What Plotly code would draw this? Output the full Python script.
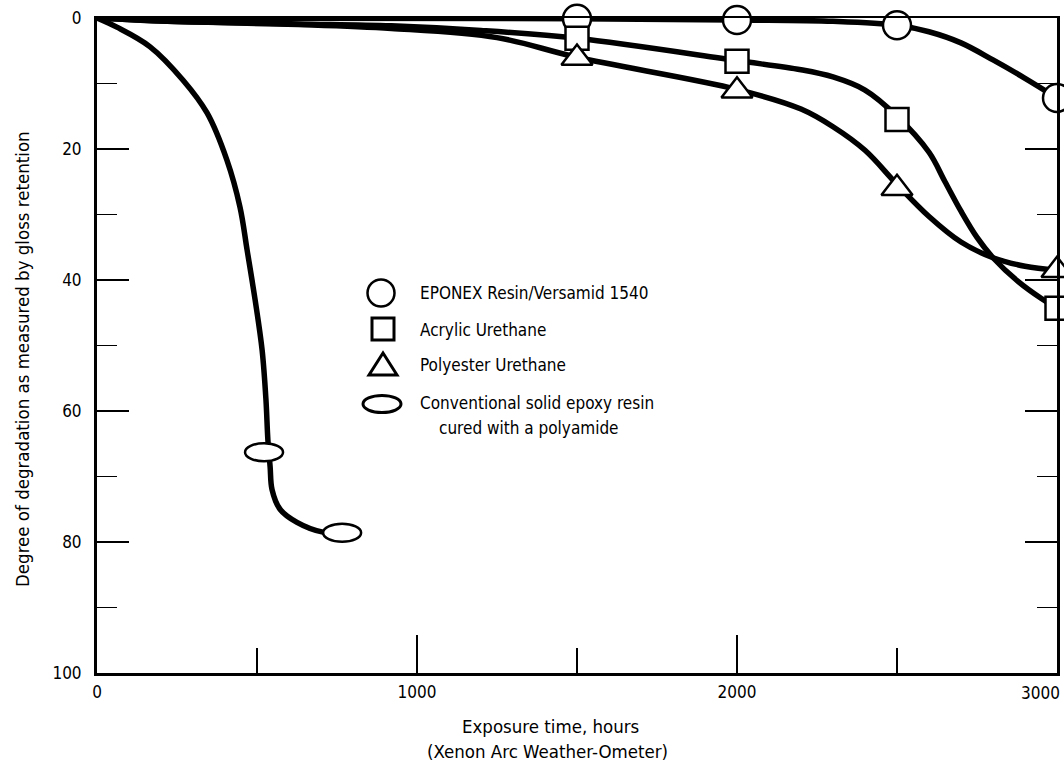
import plotly.graph_objects as go

# ---------------- data ----------------
series_names = [
    "EPONEX Resin/Versamid 1540",
    "Acrylic Urethane",
    "Polyester Urethane",
    "Conventional solid epoxy resin",
]
conv_name_line2 = "cured with a polyamide"
x_title_lines = ["Exposure time, hours", "(Xenon Arc Weather-Ometer)"]
y_title = "Degree of degradation as measured by gloss retention"

# EPONEX Resin / Versamid 1540 (circles)
eponex_x = [0, 1500, 2000, 2300, 2500, 2600, 2700, 2800, 2900, 3000]
eponex_y = [0, 0.1, 0.3, 0.5, 1.1, 2.1, 3.8, 6.4, 9.2, 12.2]
eponex_mx = [1500, 2000, 2500, 3000]
eponex_my = [0.1, 0.3, 1.1, 12.2]

# Acrylic Urethane (squares)
acrylic_x = [0, 220, 630, 920, 1200, 1500, 2000, 2200, 2300, 2400, 2500,
             2600, 2650, 2700, 2750, 2800, 2880, 2950, 3000]
acrylic_y = [0, 0.5, 0.9, 1.2, 1.9, 3.1, 6.5, 7.9, 9.0, 11.0, 15.0,
             20.5, 25.0, 29.5, 33.5, 36.6, 40.3, 42.8, 44.3]
acrylic_mx = [1500, 2000, 2500, 3000]
acrylic_my = [3.1, 6.6, 15.5, 44.3]

# Polyester Urethane (triangles)
polyester_x = [0, 220, 630, 920, 1250, 1500, 2000, 2200, 2300, 2400, 2500,
               2600, 2700, 2800, 2900, 3000]
polyester_y = [0, 0.5, 1.0, 1.6, 3.0, 6.0, 10.9, 13.9, 16.6, 20.2, 25.4,
               30.3, 34.2, 36.6, 37.9, 38.5]
polyester_mx = [1500, 2000, 2500, 3000]
polyester_my = [6.1, 11.1, 26.0, 38.5]

# Conventional solid epoxy resin cured with a polyamide (ellipses)
conv_x = [0, 62, 166, 269, 344, 406, 447, 469, 494, 516, 528, 534, 541, 547, 572, 625, 706, 766]
conv_y = [0, 1.4, 4.4, 9.5, 14.5, 21.7, 28.9, 35.4, 43.0, 50.7, 58.3, 64.4, 68.5, 72.0, 75.0, 77.0, 78.5, 78.6]
conv_mx = [522, 766]
conv_my = [66.3, 78.6]

x_ticks = [0, 1000, 2000, 3000]
y_ticks = [0, 20, 40, 60, 80, 100]

# ---------------- figure ----------------
FONT = "DejaVu Sans Condensed, Liberation Sans, sans-serif"
LINE_W = 5.5
MK_LINE = 2.5
TICK_FS = 17
LEG_FS = 17
TITLE_FS = 18.5

FIG_W, FIG_H = 1064, 769
PLOT_L, PLOT_R, PLOT_T, PLOT_B = 97, 1057, 18, 673

fig = go.Figure()

for xs, ys in [(eponex_x, eponex_y), (acrylic_x, acrylic_y),
               (polyester_x, polyester_y), (conv_x, conv_y)]:
    fig.add_trace(go.Scatter(
        x=xs, y=ys, mode="lines",
        line=dict(color="black", width=LINE_W, shape="spline", smoothing=1.0),
        showlegend=False, hoverinfo="skip",
    ))

for (mx, my, sym, size), name in zip(
        [(eponex_mx, eponex_my, "circle", 28),
         (acrylic_mx, acrylic_my, "square", 23),
         (polyester_mx, polyester_my, "triangle-up", 27)],
        series_names[:3]):
    fig.add_trace(go.Scatter(
        x=mx, y=my, mode="markers", name=name,
        marker=dict(symbol=sym, size=size, color="white",
                    line=dict(color="black", width=MK_LINE)),
        showlegend=False, cliponaxis=False,
    ))

shapes = []
# ellipse markers for the conventional epoxy series (anchored at data values)
for mx, my in zip(conv_mx, conv_my):
    shapes.append(dict(
        type="circle", xref="x", yref="y",
        xsizemode="pixel", ysizemode="pixel",
        xanchor=mx, yanchor=my, x0=-19, x1=19, y0=-9, y1=9,
        fillcolor="white", line=dict(color="black", width=MK_LINE), layer="above",
    ))


def px(xp):
    return (xp - PLOT_L) / (PLOT_R - PLOT_L)


def py(yp):
    return (PLOT_B - yp) / (PLOT_B - PLOT_T)


# ---------------- hand-drawn legend ----------------
shapes.append(dict(type="circle", xref="paper", yref="paper",
                   xsizemode="pixel", ysizemode="pixel",
                   xanchor=px(381), yanchor=py(293), x0=-13.5, x1=13.5, y0=-13.5, y1=13.5,
                   fillcolor="white", line=dict(color="black", width=MK_LINE)))
shapes.append(dict(type="rect", xref="paper", yref="paper",
                   xsizemode="pixel", ysizemode="pixel",
                   xanchor=px(383), yanchor=py(329), x0=-11, x1=11, y0=-11, y1=11,
                   fillcolor="white", line=dict(color="black", width=MK_LINE + 0.5)))
shapes.append(dict(type="path", xref="paper", yref="paper",
                   xsizemode="pixel", ysizemode="pixel",
                   xanchor=px(383), yanchor=py(365),
                   path="M -14,-10 L 14,-10 L 0,12 Z",
                   fillcolor="white", line=dict(color="black", width=MK_LINE + 0.5)))
shapes.append(dict(type="circle", xref="paper", yref="paper",
                   xsizemode="pixel", ysizemode="pixel",
                   xanchor=px(382), yanchor=py(404), x0=-19, x1=19, y0=-8.5, y1=8.5,
                   fillcolor="white", line=dict(color="black", width=MK_LINE + 0.5)))

annotations = []
for name, ypix, xpix in [(series_names[0], 293, 418), (series_names[1], 330, 418),
                         (series_names[2], 365, 418), (series_names[3], 403, 418),
                         (conv_name_line2, 428, 437)]:
    annotations.append(dict(
        text=name, xref="paper", yref="paper", x=px(xpix), y=py(ypix),
        xanchor="left", yanchor="middle", showarrow=False,
        font=dict(family=FONT, size=LEG_FS, color="black"),
    ))

# axis titles (placed where they sit in the reference)
for txt, xpix, ypix in [(x_title_lines[0], 550, 726), (x_title_lines[1], 547, 752)]:
    annotations.append(dict(
        text=txt, xref="paper", yref="paper", x=px(xpix), y=py(ypix),
        xanchor="center", yanchor="middle", showarrow=False,
        font=dict(family=FONT, size=TITLE_FS, color="black"),
    ))
annotations.append(dict(
    text=y_title, xref="paper", yref="paper", x=px(22), y=py(359),
    xanchor="center", yanchor="middle", textangle=-90, showarrow=False,
    font=dict(family=FONT, size=TITLE_FS, color="black"),
))
# last x tick label sits just inside the right edge of the frame
annotations.append(dict(
    text=str(x_ticks[-1]), xref="x", yref="paper", x=x_ticks[-1], y=py(693),
    xanchor="right", yanchor="middle", xshift=5, showarrow=False,
    font=dict(family=FONT, size=TICK_FS, color="black"),
))

fig.update_layout(
    width=FIG_W, height=FIG_H,
    margin=dict(l=PLOT_L, r=FIG_W - PLOT_R, t=PLOT_T, b=FIG_H - PLOT_B),
    paper_bgcolor="white", plot_bgcolor="white",
    font=dict(family=FONT, size=TICK_FS, color="black"),
    shapes=shapes, annotations=annotations,
    showlegend=False,
    xaxis=dict(
        range=[0, 3000], tickvals=x_ticks,
        ticktext=[str(v) for v in x_ticks[:-1]] + [""],
        ticks="inside", ticklen=38, tickwidth=1.3, tickcolor="black",
        minor=dict(dtick=500, tick0=0, ticks="inside", ticklen=25,
                   tickwidth=1.3, tickcolor="black"),
        showline=True, linecolor="black", linewidth=2.5, mirror=True,
        showgrid=False, zeroline=False, automargin=False,
        tickfont=dict(family=FONT, size=TICK_FS),
        ticklabelstandoff=2, ticklabeloverflow="allow",
    ),
    yaxis=dict(
        range=[100, 0], tickvals=y_ticks, ticktext=[str(v) for v in y_ticks],
        ticks="inside", ticklen=32, tickwidth=1.3, tickcolor="black",
        minor=dict(dtick=10, tick0=0, ticks="inside", ticklen=20,
                   tickwidth=1.3, tickcolor="black"),
        showline=True, linecolor="black", linewidth=3, mirror="ticks",
        showgrid=False, zeroline=False, automargin=False,
        tickfont=dict(family=FONT, size=TICK_FS),
        ticklabelstandoff=9, ticklabeloverflow="allow",
    ),
)

# remove the browser's default page margin so the figure sits at the window's origin
fig.write_html(
    "out.html",
    config={"displayModeBar": False, "staticPlot": True},
    post_script="document.body.style.margin='0';document.body.style.overflow='hidden';",
)
